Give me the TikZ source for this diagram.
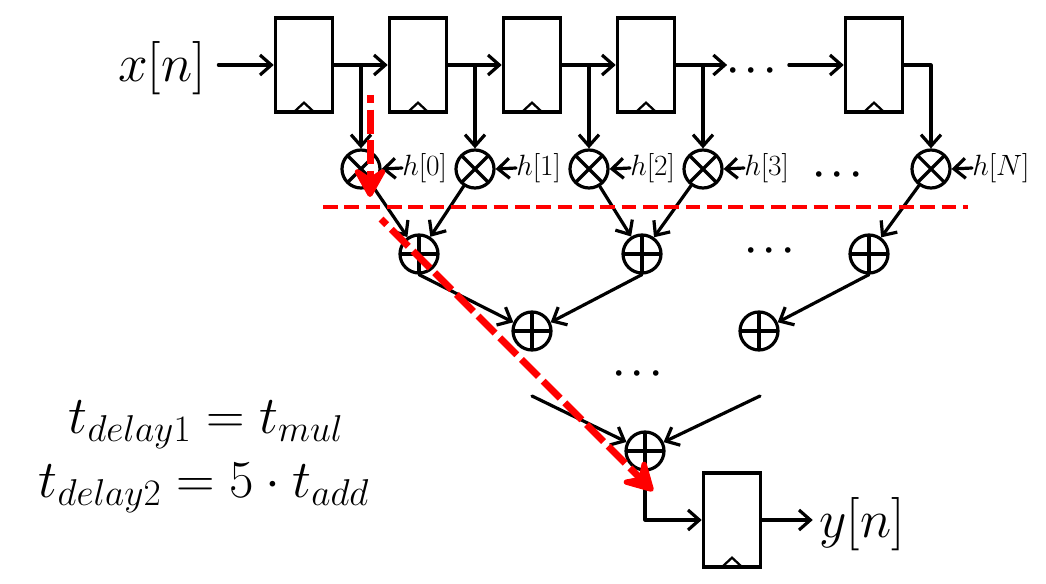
\documentclass[tikz,border=0pt]{standalone}
\usepackage{fix-cm}
\usepackage{amsmath,amssymb}
\usetikzlibrary{arrows.meta}
\tikzset{
  wire/.style={line width=2.4pt,-{Straight Barb[length=8.5pt,width=15pt,line width=2.4pt]},line cap=round,line join=round},
  reg/.style={draw,line width=2.4pt,rectangle,minimum width=43pt,minimum height=70.5pt,inner sep=0pt,
    path picture={\draw[line width=1.7pt] ([xshift=-7.5pt]path picture bounding box.south) -- ++(7.5pt,7pt) -- ++(7.5pt,-7pt);}},
  mul/.style={draw,line width=2.4pt,circle,minimum size=28.5pt,inner sep=0pt,
    path picture={\draw[line width=2.4pt] (path picture bounding box.north west) -- (path picture bounding box.south east)
      (path picture bounding box.north east) -- (path picture bounding box.south west);}},
  add/.style={draw,line width=2.4pt,circle,minimum size=28.5pt,inner sep=0pt,
    path picture={\draw[line width=2.4pt] (path picture bounding box.north) -- (path picture bounding box.south)
      (path picture bounding box.east) -- (path picture bounding box.west);}},
  biglab/.style={inner sep=0pt,outer sep=5pt,font=\fontsize{40}{46}\selectfont},
  smalllab/.style={inner sep=0pt,anchor=west,font=\fontsize{22}{26}\selectfont},
  dotlab/.style={inner sep=0pt,font=\fontsize{27}{30}\selectfont\boldmath},
  redline/.style={red,line width=2.4pt,dash pattern=on 11pt off 5pt},
  redpath/.style={red,line width=5.25pt,dash pattern=on 18pt off 5pt,dash phase=12pt,
    -{Stealth[length=27pt,width=30pt,inset=10pt,round,line width=4pt]}}
}
\begin{document}
\begin{tikzpicture}[x=0.75pt,y=-0.75pt]
\useasboundingbox (0,0) rectangle (1046,584);
% registers
\node[reg] (r1) at (304,65) {};
\node[reg] (r2) at (418,65) {};
\node[reg] (r3) at (532,65) {};
\node[reg] (r4) at (646,65) {};
\node[reg] (r5) at (874,65) {};
\node[reg] (r6) at (732,520) {};
% multipliers
\node[mul] (m1) at (361,169) {};
\node[mul] (m2) at (475,169) {};
\node[mul] (m3) at (589,169) {};
\node[mul] (m4) at (703,169) {};
\node[mul] (m5) at (931,169) {};
% adders
\node[add] (a1) at (419,254) {};
\node[add] (a2) at (642,254) {};
\node[add] (a3) at (869,254) {};
\node[add] (a4) at (532,331) {};
\node[add] (a5) at (759,331) {};
\node[add] (a6) at (645,451) {};
% labels
\node[biglab] (xn) at (162,68) {$x[n]$};
\node[biglab] (yn) at (862,524) {$y[n]$};
\node[smalllab] (h0) at (402,168) {$h[0]$};
\node[smalllab] (h1) at (516,168) {$h[1]$};
\node[smalllab] (h2) at (630,168) {$h[2]$};
\node[smalllab] (h3) at (744,168) {$h[3]$};
\node[smalllab] (h4) at (972,168) {$h[N]$};
\node[dotlab] (d1) at (755,71) {$\cdots$};
\node[dotlab] (d2) at (841,175) {$\cdots$};
\node[dotlab] (d3) at (773,251) {$\cdots$};
\node[dotlab] (d4) at (641,374) {$\cdots$};
\node[biglab] (t1) at (206,425) {$t_{delay1}=t_{mul}$};
\node[biglab] (t2) at (204,488) {$t_{delay2}=5\cdot t_{add}$};
% free ends
\coordinate (c1) at (532,396);
\coordinate (c2) at (760,396);
\coordinate (c3) at (931,65);
\coordinate (c4) at (645,520);
% top row
\draw[wire] (xn.east |- r1.west)++(6,0) -- (r1.west);
\draw[wire] (r1.east) -- (r2.west);
\draw[wire] (r2.east) -- (r3.west);
\draw[wire] (r3.east) -- (r4.west);
\draw[wire] (r4.east) -- (r4.east -| d1.west);
\draw[wire] (d1.east |- r5.west)++(6,0) -- (r5.west);
% taps
\draw[wire] (m1 |- r1.east) -- (m1.north);
\draw[wire] (m2 |- r2.east) -- (m2.north);
\draw[wire] (m3 |- r3.east) -- (m3.north);
\draw[wire] (m4 |- r4.east) -- (m4.north);
\draw[wire] (r5.east) -- (c3) -- (m5.north);
% coefficients
\draw[wire] (h0.west) -- (m1.east);
\draw[wire] (h1.west) -- (m2.east);
\draw[wire] (h2.west) -- (m3.east);
\draw[wire] (h3.west) -- (m4.east);
\draw[wire] (h4.west) -- (m5.east);
% adder tree
\draw[wire] (m1) -- (a1);
\draw[wire] (m2) -- (a1);
\draw[wire] (m3) -- (a2);
\draw[wire] (m4) -- (a2);
\draw[wire] (m5) -- (a3);
\draw[wire] (a1.south) -- (a4.155);
\draw[wire] (a2.south) -- (a4.25);
\draw[wire] (a3.south) -- (a5.25);
\draw[wire] (c1) -- (a6);
\draw[wire] (c2) -- (a6);
\draw[wire] (a6.south) -- (c4) -- (r6.west);
\draw[wire] (r6.east) -- (r6.east -| yn.west);
% pipeline cut and critical path
\draw[redline] (323,207) -- (968,207);
\draw[redpath] (370,95) -- (370,197);
\draw[redpath] (381,219) -- (653,491);
\end{tikzpicture}
\end{document}
